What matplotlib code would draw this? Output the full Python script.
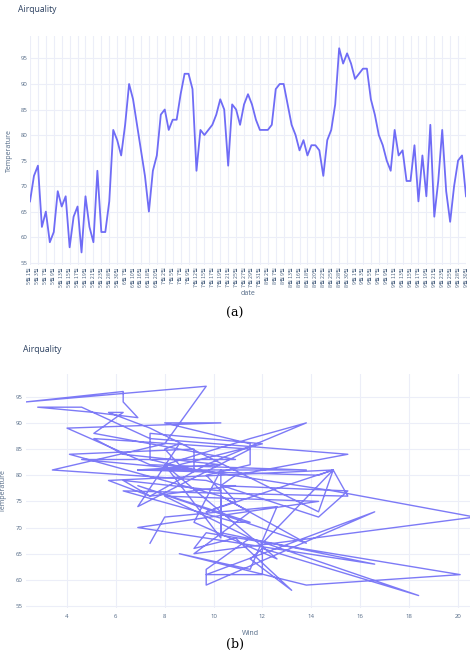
import matplotlib
matplotlib.use("Agg")
import matplotlib.pyplot as plt

# airquality (complete cases): month, day, wind (mph), temperature (F)
months = [5]*24 + [6]*9 + [7]*26 + [8]*23 + [9]*29
days = [1, 2, 3, 4, 7, 8, 9, 12, 13, 14, 15, 16, 17, 18, 19, 20, 21, 22, 23, 24, 28, 29, 30, 31,
        7, 9, 10, 13, 16, 17, 18, 19, 20,
        1, 2, 3, 5, 6, 7, 8, 9, 10, 12, 13, 15, 16, 17, 18, 19, 20, 21, 24, 25, 26, 27, 28, 29, 30, 31,
        1, 2, 3, 7, 8, 9, 12, 13, 14, 16, 17, 18, 19, 20, 21, 22, 24, 25, 26, 28, 29, 30, 31,
        1, 2, 3, 4, 5, 6, 7, 8, 9, 10, 11, 12, 13, 14, 15, 16, 17, 18, 19, 20, 21, 22, 23, 24, 25, 26, 28, 29, 30]
wind = [7.4, 8.0, 12.6, 11.5, 8.6, 13.8, 20.1, 9.7, 9.2, 10.9, 13.2, 11.5, 12.0, 18.4, 11.5, 9.7,
        9.7, 16.6, 9.7, 12.0, 12.0, 14.9, 5.7, 7.4,
        9.7, 13.8, 11.5, 8.0, 14.9, 20.7, 9.2, 11.5, 10.3,
        4.1, 9.2, 9.2, 4.6, 10.9, 5.1, 6.3, 5.7, 7.4, 14.3, 14.9, 14.3, 6.9, 10.3, 6.3, 5.1, 11.5,
        6.9, 8.6, 8.0, 8.6, 12.0, 7.4, 7.4, 7.4, 9.2,
        6.9, 13.8, 7.4, 4.0, 10.3, 8.0, 11.5, 11.5, 9.7, 10.3, 6.3, 7.4, 10.9, 10.3, 15.5, 14.3,
        9.7, 3.4, 8.0, 9.7, 2.3, 6.3, 6.3,
        6.9, 5.1, 2.8, 4.6, 7.4, 15.5, 10.9, 10.3, 10.9, 9.7, 14.9, 15.5, 6.3, 10.9, 11.5, 6.9,
        13.8, 10.3, 10.3, 8.0, 12.6, 9.2, 10.3, 10.3, 16.6, 6.9, 14.3, 8.0, 11.5]
temp = [67, 72, 74, 62, 65, 59, 61, 69, 66, 68, 58, 64, 66, 57, 68, 62, 59, 73, 61, 61, 67, 81, 79, 76,
        82, 90, 87, 82, 77, 72, 65, 73, 76,
        84, 85, 81, 83, 83, 88, 92, 92, 89, 73, 81, 80, 81, 82, 84, 87, 85, 74, 86, 85, 82, 86, 88,
        86, 83, 81,
        81, 81, 82, 89, 90, 90, 86, 82, 80, 77, 79, 76, 78, 78, 77, 72, 79, 81, 86, 97, 94, 96, 94,
        91, 92, 93, 93, 87, 84, 80, 78, 75, 73, 81, 76, 77, 71, 71, 78, 67, 76, 68, 82, 64, 71, 81,
        69, 63, 70, 75, 76, 68]
dates = [f"{m}월 {d}일" for m, d in zip(months, days)]
y_ticks = [55, 60, 65, 70, 75, 80, 85, 90, 95]
wind_ticks = [4, 6, 8, 10, 12, 14, 16, 18, 20]

LINE = "#6f6cf6"
GRID = "#ECEEF8"
TXT = "#2a3f5f"
TICK = "#506784"
W, H = 470, 654

fig = plt.figure(figsize=(W / 100, H / 100), dpi=100)


def box(l, t, r, b):
    return [l / W, 1 - b / H, (r - l) / W, (b - t) / H]


def style(ax):
    for s in ax.spines.values():
        s.set_visible(False)
    ax.tick_params(length=0, colors=TICK, labelsize=4.3, pad=2)
    ax.grid(True, color=GRID, lw=0.8)
    ax.set_axisbelow(True)
    ax.set_yticks(y_ticks)
    ax.set_ylim(54.6, 99.4)
    for lab in ax.get_yticklabels():
        lab.set_fontfamily("Open Sans")


# (a) temperature by date
ax1 = fig.add_axes(box(30, 36, 466, 264.7))
x_idx = list(range(len(dates)))
ax1.plot(x_idx, temp, color=LINE, lw=1.3)
style(ax1)
ax1.set_xlim(0, len(dates) - 1)
ax1.set_xticks(x_idx[::2])
ax1.set_xticklabels(dates[::2], rotation=90, fontsize=3.8,
                    fontfamily=["Noto Sans CJK KR", "DejaVu Sans"])
ax1.set_xlabel("date", fontsize=5, color=TICK, fontfamily="Open Sans", labelpad=2)
ax1.set_ylabel("Temperature", fontsize=5, color=TICK, fontfamily="Open Sans", labelpad=5)
fig.text(18 / W, 1 - 10 / H, "Airquality", fontsize=6.2, color=TXT,
         fontfamily="Open Sans", va="center", ha="left")
fig.text(235 / W, 1 - 313 / H, "(a)", fontsize=9, color="black",
         fontfamily="DejaVu Serif", va="center", ha="center")

# (b) temperature against wind, joined in record order
ax2 = fig.add_axes(box(25.5, 373.7, 474.8, 608.1))
ax2.plot(wind, temp, color=LINE, lw=1.0, alpha=0.9)
style(ax2)
ax2.set_xlim(2.3, 20.7)
ax2.set_xticks(wind_ticks)
for lab in ax2.get_xticklabels():
    lab.set_fontfamily("Open Sans")
ax2.tick_params(axis="x", pad=4)
ax2.set_xlabel("Wind", fontsize=5, color=TICK, fontfamily="Open Sans", labelpad=8)
ax2.set_ylabel("Temperature", fontsize=5, color=TICK, fontfamily="Open Sans", labelpad=6)
fig.text(23 / W, 1 - 349 / H, "Airquality", fontsize=6.2, color=TXT,
         fontfamily="Open Sans", va="center", ha="left")
fig.text(235 / W, 1 - 644 / H, "(b)", fontsize=9, color="black",
         fontfamily="DejaVu Serif", va="center", ha="center")

fig.savefig("out.png", dpi=100)
